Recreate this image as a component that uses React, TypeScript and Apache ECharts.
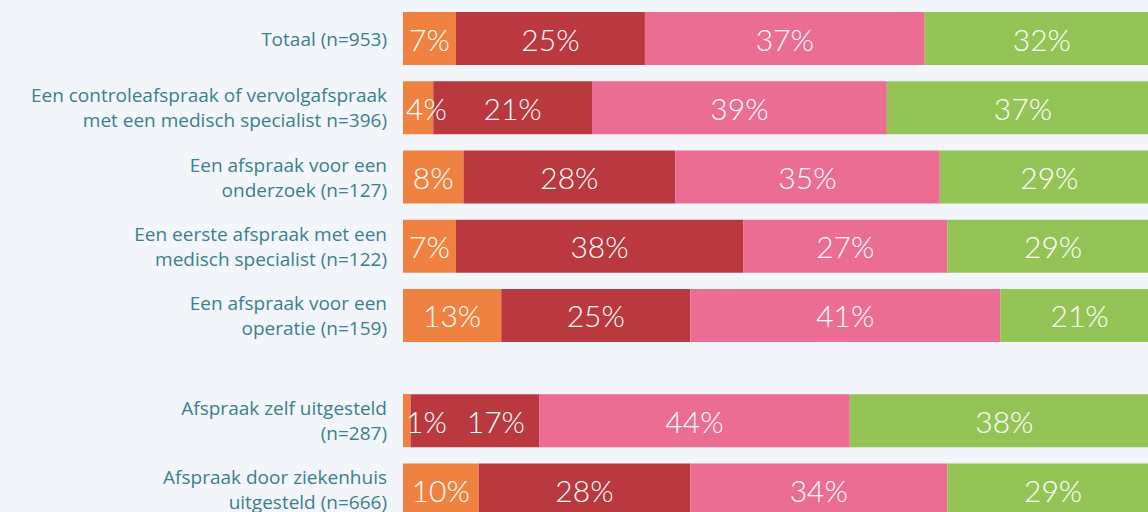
import React, { useEffect, useRef } from "react";
import * as echarts from "echarts";

const categoriesTop = [
  "Totaal (n=953)",
  "Een controleafspraak of vervolgafspraak\nmet een medisch specialist n=396)",
  "Een afspraak voor een\nonderzoek (n=127)",
  "Een eerste afspraak met een\nmedisch specialist (n=122)",
  "Een afspraak voor een\noperatie (n=159)",
];
const categoriesBottom = [
  "Afspraak zelf uitgesteld\n(n=287)",
  "Afspraak door ziekenhuis\nuitgesteld (n=666)",
];

const seriesNames = ["Categorie 1", "Categorie 2", "Categorie 3", "Categorie 4"];

const orangeTop = [7, 4, 8, 7, 13];
const redTop = [25, 21, 28, 38, 25];
const pinkTop = [37, 39, 35, 27, 41];
const greenTop = [32, 37, 29, 29, 21];

const orangeBottom = [1, 10];
const redBottom = [17, 28];
const pinkBottom = [41.1, 34];
const greenBottom = [41.5, 29];

const pinkBottomLabels = [44, 34];
const greenBottomLabels = [38, 29];

const colors = ["#f08241", "#b9393f", "#ec6d93", "#95c456"];
const BG = "#f2f5f9";
const LABEL_COLOR = "#3a7f8c";
const GRID_LEFT = 403;
const GRID_WIDTH = 756;
const AXIS_MAX = 100;
const BAR_FONT = "300 30px Lato";

function textWidth(t: string): number {
  const c = document.createElement("canvas").getContext("2d");
  if (!c) return t.length * 18;
  c.font = BAR_FONT;
  return c.measureText(t).width;
}

export default function App() {
  const ref = useRef<HTMLDivElement>(null);

  useEffect(() => {
    document.body.style.margin = "0";
    document.body.style.background = BG;
    if (!ref.current) return;
    const chart = echarts.init(ref.current, undefined, { renderer: "svg" });
    const pxPer = GRID_WIDTH / AXIS_MAX;

    const buildGroup = (groups: number[][], labels: number[][], axisIdx: number) => {
      const [orange] = groups;
      return groups.map((vals, si) => ({
        name: seriesNames[si],
        type: "bar",
        stack: "total" + axisIdx,
        xAxisIndex: axisIdx,
        yAxisIndex: axisIdx,
        barWidth: 53,
        itemStyle: { color: colors[si] },
        label: {
          show: true,
          position: "inside",
          formatter: (p: any) => `${labels[si][p.dataIndex]}%`,
          color: "#ffffff",
          fontFamily: "Lato",
          fontWeight: 300,
          fontSize: 30,
        },
        data: vals.map((v, i) => {
          const lbl = `${labels[si][i]}%`;
          const w = textWidth(lbl);
          if (si === 0 && v * pxPer < w + 8) {
            return { value: v, label: { position: "insideLeft", distance: 3 } };
          }
          if (si === 1 && orange[i] * pxPer < textWidth(`${labels[0][i]}%`) + 8) {
            const orangeEnd = 3 + textWidth(`${labels[0][i]}%`);
            const center = (orange[i] + v / 2) * pxPer;
            const left = center - w / 2;
            const off = Math.max(0, orangeEnd + 20 - left);
            return { value: v, label: { offset: [off, 0] } };
          }
          return v;
        }),
      }));
    };

    const yAxisCommon = (lineHeight: number) => ({
      type: "category",
      inverse: true,
      axisLine: { show: false },
      axisTick: { show: false },
      splitLine: { show: false },
      axisLabel: {
        color: LABEL_COLOR,
        fontFamily: "Open Sans",
        fontSize: 19,
        lineHeight,
        margin: 16,
      },
    });
    const xAxisCommon = {
      type: "value",
      min: 0,
      max: AXIS_MAX,
      show: false,
    };

    const topGroups = [orangeTop, redTop, pinkTop, greenTop];
    const bottomGroups = [orangeBottom, redBottom, pinkBottom, greenBottom];
    const bottomLabels = [orangeBottom, redBottom, pinkBottomLabels, greenBottomLabels];

    chart.setOption({
      animation: false,
      backgroundColor: BG,
      grid: [
        { left: GRID_LEFT, width: GRID_WIDTH, top: 4, height: 346, outerBoundsMode: "none" },
        { left: GRID_LEFT, width: GRID_WIDTH, top: 386, height: 138.5, outerBoundsMode: "none" },
      ],
      xAxis: [
        { ...xAxisCommon, gridIndex: 0 },
        { ...xAxisCommon, gridIndex: 1 },
      ],
      yAxis: [
        { ...yAxisCommon(25), gridIndex: 0, data: categoriesTop },
        { ...yAxisCommon(25), gridIndex: 1, data: categoriesBottom },
      ],
      series: [
        ...buildGroup(topGroups, topGroups, 0),
        ...buildGroup(bottomGroups, bottomLabels, 1),
      ],
    });

    return () => chart.dispose();
  }, []);

  return <div ref={ref} style={{ width: 1148, height: 512, background: BG }} />;
}
